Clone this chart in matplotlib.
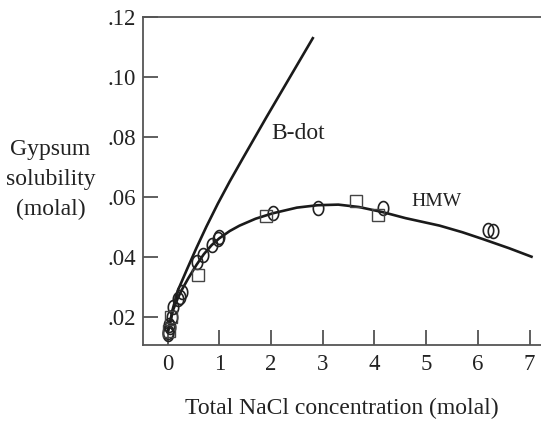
import matplotlib
matplotlib.use("Agg")
import matplotlib.pyplot as plt
from matplotlib.path import Path
import numpy as np

plt.rcParams['font.family'] = ['Liberation Serif', 'DejaVu Serif']

# B-dot model curve
bdot_x = [0.0, 0.04, 0.1, 0.2, 0.37, 0.56, 0.75, 0.97, 1.2, 1.45, 1.91, 2.36, 2.82]
bdot_y = [0.015, 0.0178, 0.0228, 0.029, 0.0358, 0.0432, 0.0502, 0.0578, 0.0652, 0.0728, 0.0866, 0.0998, 0.1133]

# HMW model curve
hmw_x = [0.0, 0.04, 0.1, 0.2, 0.27, 0.4, 0.56, 0.7, 0.85, 1.0, 1.2, 1.39, 1.7, 2.03, 2.5, 2.9, 3.3, 3.7, 4.16, 4.6, 5.26, 5.7, 6.1, 6.6, 7.06]
hmw_y = [0.015, 0.0175, 0.0222, 0.0265, 0.029, 0.033, 0.0375, 0.041, 0.0440, 0.0463, 0.0487, 0.0505, 0.0528, 0.0546, 0.0565, 0.0573, 0.0575, 0.0567, 0.0550, 0.0530, 0.0505, 0.0483, 0.0460, 0.0430, 0.0400]

# Measured data: circles
circ_x = [0.0, 0.0, 0.02, 0.04, 0.08, 0.1, 0.2, 0.23, 0.27, 0.56, 0.68, 0.85, 0.97, 1.0, 2.03, 2.9, 4.16, 6.19, 6.29]
circ_y = [0.0145, 0.015, 0.0175, 0.0167, 0.020, 0.0233, 0.026, 0.0267, 0.0283, 0.0383, 0.0407, 0.044, 0.046, 0.0467, 0.0547, 0.0563, 0.0563, 0.049, 0.0487]

# Measured data: squares
sq_x = [0.02, 0.06, 0.58, 1.91, 3.64, 4.06]
sq_y = [0.0155, 0.020, 0.034, 0.0537, 0.0587, 0.054]

xticks = [0, 1, 2, 3, 4, 5, 6, 7]
yticks = [0.02, 0.04, 0.06, 0.08, 0.10, 0.12]
ytick_labels = ['.02', '.04', '.06', '.08', '.10', '.12']

# slightly tall elliptical "o" marker, as drawn in the original
_t = np.linspace(0, 2 * np.pi, 60)
ellipse = Path(np.column_stack([0.75 * np.cos(_t), np.sin(_t)]), closed=True)

fig = plt.figure(figsize=(5.41, 4.23), dpi=100)
ax = fig.add_axes([0.264, 0.184, 0.736, 0.776])

ax.plot(bdot_x, bdot_y, color='#1a1a1a', lw=1.9, solid_capstyle='butt', solid_joinstyle='round')
ax.plot(hmw_x, hmw_y, color='#1a1a1a', lw=1.9, solid_capstyle='butt', solid_joinstyle='round')
ax.plot(circ_x, circ_y, linestyle='none', marker=ellipse, ms=10, mfc='none', mec='#222222', mew=1.2)
ax.plot(sq_x, sq_y, linestyle='none', marker='s', ms=8, mfc='none', mec='#444444', mew=1.0)

ax.set_xlim(-0.48, 7.22)
ax.set_ylim(0.0107, 0.12)
ax.set_xticks(xticks)
ax.set_xticklabels([str(t) for t in xticks])
ax.set_yticks(yticks)
ax.set_yticklabels(ytick_labels)

ax.spines['right'].set_visible(False)
for s in ['left', 'bottom', 'top']:
    ax.spines[s].set_color('#555555')
    ax.spines[s].set_linewidth(1.3)

ax.tick_params(direction='in', length=11, width=1.2, color='#444444',
               labelsize=16.5, labelcolor='#222222', pad=6)
ax.tick_params(axis='y', pad=5)

ax.set_xlabel('Total NaCl concentration (molal)', fontsize=17, color='#222222', labelpad=17)
fig.text(0.093, 0.575, 'Gypsum\nsolubility\n(molal)', ha='center', va='center',
         fontsize=17, color='#222222', linespacing=1.55)

ax.text(2.01, 0.0813, 'B-dot', fontsize=17, color='#222222', va='center', ha='left')
ax.text(4.72, 0.0587, 'HMW', fontsize=14, color='#222222', va='center', ha='left')

fig.savefig('out.png', dpi=100)
